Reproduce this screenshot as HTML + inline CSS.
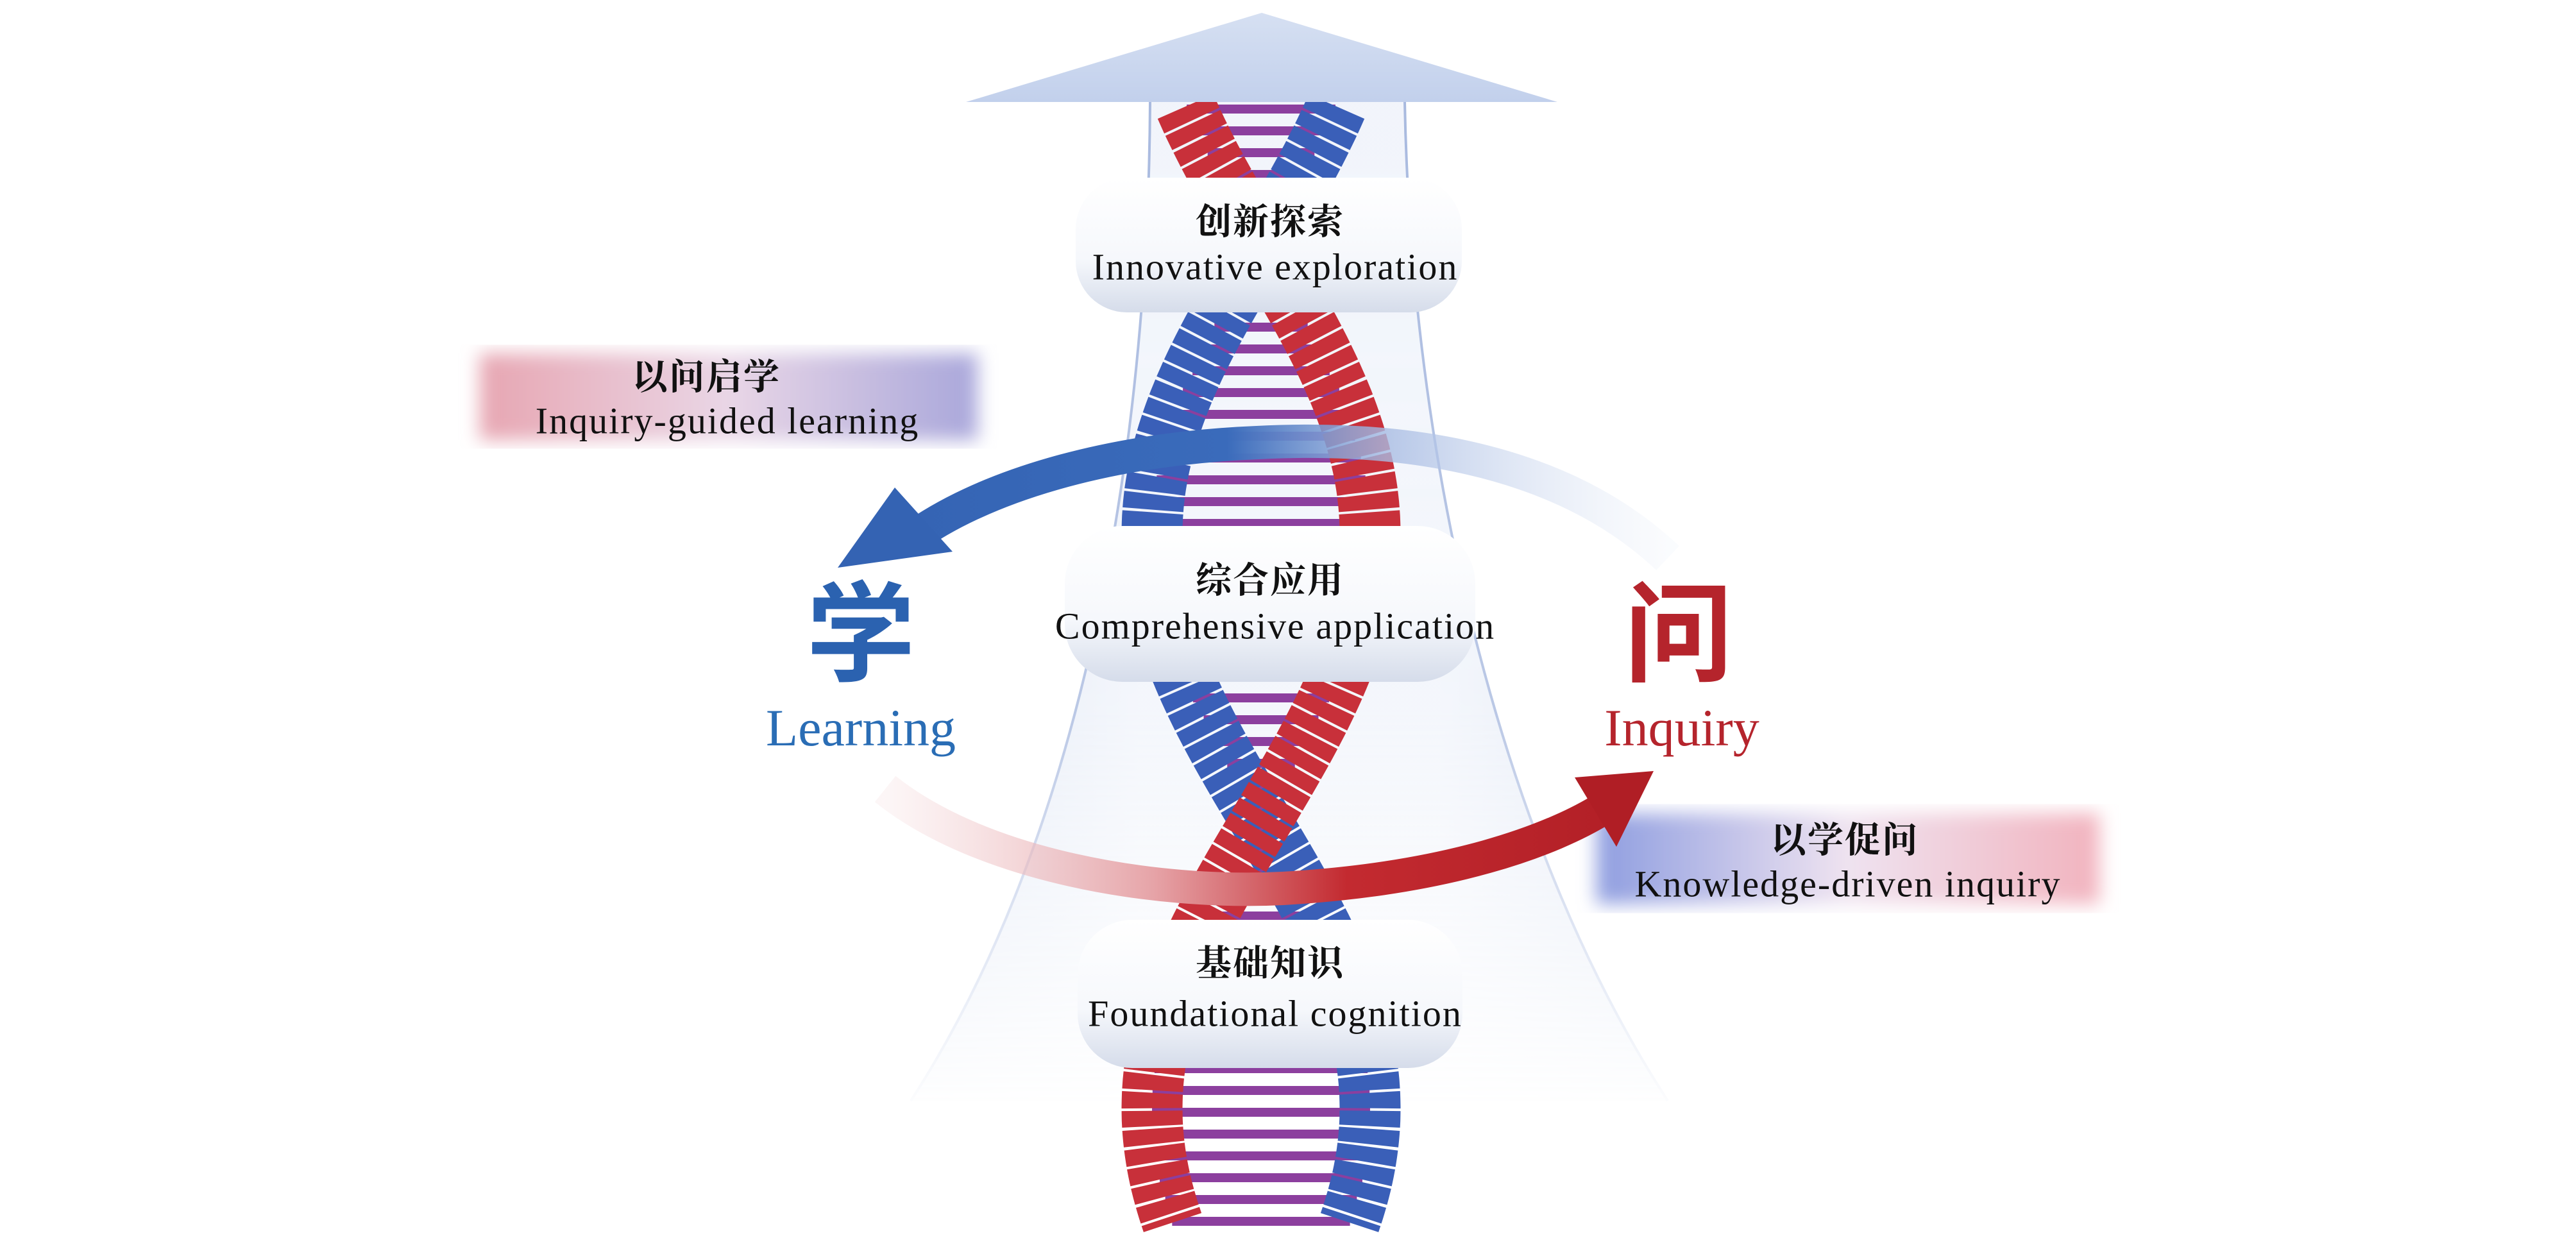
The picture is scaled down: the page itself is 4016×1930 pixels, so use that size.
<!DOCTYPE html>
<html><head><meta charset="utf-8">
<style>
html,body{margin:0;padding:0;background:#fff;}
#c{position:relative;width:4016px;height:1930px;overflow:hidden;background:#fff;}
svg{position:absolute;left:0;top:0;}
.t{position:absolute;transform:translate(-50%,-50%);white-space:nowrap;font-family:"Liberation Serif","Noto Serif CJK SC",serif;color:#111;}
.cn{font-size:56px;font-weight:bold;letter-spacing:2px;}
.en{font-size:58px;letter-spacing:2px;}
</style></head><body>
<div id="c">
<svg width="4016" height="1930" viewBox="0 0 4016 1930">
<defs>
<linearGradient id="shaft" x1="0" x2="1" y1="0" y2="0">
<stop offset="0" stop-color="#d4def0"/><stop offset="0.3" stop-color="#eef2fa"/><stop offset="0.7" stop-color="#eef2fa"/><stop offset="1" stop-color="#d4def0"/>
</linearGradient>
<linearGradient id="fadeV" x1="0" y1="0" x2="0" y2="1">
<stop offset="0" stop-color="#fff" stop-opacity="1"/><stop offset="0.6" stop-color="#fff" stop-opacity="0.8"/><stop offset="1" stop-color="#fff" stop-opacity="0"/>
</linearGradient>
<mask id="m"><rect x="0" y="150" width="4016" height="1600" fill="url(#fadeV)"/></mask>
<linearGradient id="head" x1="0" y1="0" x2="0" y2="1">
<stop offset="0" stop-color="#d6e0f2"/><stop offset="1" stop-color="#c2d0ec"/>
</linearGradient>
<linearGradient id="box" x1="0" y1="0" x2="0" y2="1">
<stop offset="0" stop-color="#ffffff"/><stop offset="0.6" stop-color="#f6f8fc"/><stop offset="1" stop-color="#d5dcea"/>
</linearGradient>
<linearGradient id="bar1" x1="0" x2="1">
<stop offset="0" stop-color="#e7a6b2"/><stop offset="0.5" stop-color="#e9d6e6"/><stop offset="1" stop-color="#a9a7db"/>
</linearGradient>
<linearGradient id="bar2" x1="0" x2="1">
<stop offset="0" stop-color="#8f9ee0"/><stop offset="0.5" stop-color="#efe3f0"/><stop offset="1" stop-color="#f2b3be"/>
</linearGradient>
<linearGradient id="blueArc" gradientUnits="userSpaceOnUse" x1="1350" y1="0" x2="2600" y2="0">
<stop offset="0" stop-color="#3463b3"/><stop offset="0.45" stop-color="#3a6bbb"/><stop offset="0.65" stop-color="#a8bce3" stop-opacity="0.8"/><stop offset="1" stop-color="#e8eef8" stop-opacity="0.2"/>
</linearGradient>
<linearGradient id="redArc" gradientUnits="userSpaceOnUse" x1="1380" y1="0" x2="2580" y2="0">
<stop offset="0" stop-color="#f3d3d5" stop-opacity="0.2"/><stop offset="0.35" stop-color="#e6a3a7"/><stop offset="0.6" stop-color="#c32a30"/><stop offset="1" stop-color="#b01e25"/>
</linearGradient>
<filter id="blur"><feGaussianBlur stdDeviation="14"/></filter>
</defs>
<g mask="url(#m)">
<path d="M1793 159 L2190 159 C2200 700 2330 1300 2600 1716 L1420 1716 C1690 1300 1790 700 1793 159 Z" fill="url(#shaft)" opacity="0.8"/>
<path d="M1793 159 C1790 700 1690 1300 1420 1716" fill="none" stroke="#a9badf" stroke-width="4"/>
<path d="M2190 159 C2200 700 2330 1300 2600 1716" fill="none" stroke="#a9badf" stroke-width="4"/>
</g>
<g id="dna"></g>
<polygon points="1967,20 2428,159 1506,159" fill="url(#head)"/>
<rect x="748" y="551" width="776" height="135" fill="url(#bar1)" filter="url(#blur)"/>
<rect x="2489" y="1268" width="784" height="141" fill="url(#bar2)" filter="url(#blur)"/>
<rect x="1677" y="277" width="602" height="210" rx="80" fill="url(#box)"/>
<rect x="1660" y="820" width="640" height="243" rx="90" fill="url(#box)"/>
<rect x="1680" y="1434" width="600" height="231" rx="85" fill="url(#box)"/>
<path d="M2600 870 C2420 700 2150 680 1960 690 C1720 700 1530 760 1420 840" fill="none" stroke="url(#blueArc)" stroke-width="52"/>
<polygon points="1306,885 1395,760 1485,860" fill="#3463b3"/>
<path d="M1380 1230 C1530 1350 1800 1395 2000 1385 C2260 1370 2420 1310 2500 1260" fill="none" stroke="url(#redArc)" stroke-width="52"/>
<polygon points="2578,1202 2455,1212 2520,1320" fill="#b01e25"/>
</svg>
<div class="t cn" style="left:1980px;top:342px">创新探索</div>
<div class="t en" style="left:1988px;top:416px">Innovative exploration</div>
<div class="t cn" style="left:1980px;top:901px">综合应用</div>
<div class="t en" style="left:1988px;top:976px">Comprehensive application</div>
<div class="t cn" style="left:1980px;top:1498px">基础知识</div>
<div class="t en" style="left:1988px;top:1580px">Foundational cognition</div>
<div class="t cn" style="left:1101px;top:584px">以问启学</div>
<div class="t en" style="left:1134px;top:656px">Inquiry-guided learning</div>
<div class="t cn" style="left:2876px;top:1306px">以学促问</div>
<div class="t en" style="left:2881px;top:1378px">Knowledge-driven inquiry</div>
<div class="t" style="left:1342px;top:975px;font-size:170px;color:#2b62b0;font-weight:bold;font-family:'Noto Sans CJK SC',sans-serif">学</div>
<div class="t" style="left:1342px;top:1135px;font-size:82px;color:#2a6db5">Learning</div>
<div class="t" style="left:2617px;top:975px;font-size:170px;color:#b5242c;font-weight:bold;font-family:'Noto Sans CJK SC',sans-serif">问</div>
<div class="t" style="left:2622px;top:1135px;font-size:82px;color:#b5242c">Inquiry</div>
</div>
<script>
(function(){
var g=document.getElementById('dna'),ns='http://www.w3.org/2000/svg';
var cx=1966,A=170,P=1792;
function ph(y){return (y-384)/P*2*Math.PI+Math.PI/2;}
function xb(y){return cx+A*Math.cos(ph(y));}
function xr(y){return cx-A*Math.cos(ph(y));}
for(var y=170;y<1910;y+=34){
 var l=document.createElementNS(ns,'line');
 l.setAttribute('x1',xb(y));l.setAttribute('x2',xr(y));l.setAttribute('y1',y);l.setAttribute('y2',y);
 l.setAttribute('stroke','#8c3f9e');l.setAttribute('stroke-width','14');g.appendChild(l);
}
function strand(f,col){
 var d='';for(var y=166;y<=1915;y+=10){d+=(y==166?'M':'L')+f(y).toFixed(1)+' '+y;}
 var p=document.createElementNS(ns,'path');p.setAttribute('d',d);p.setAttribute('fill','none');
 p.setAttribute('stroke',col);p.setAttribute('stroke-width','95');p.setAttribute('stroke-dasharray','24 4');g.appendChild(p);
}
strand(xb,'#3a5fb8');strand(xr,'#c8303a');
})();
</script>
</body></html>
